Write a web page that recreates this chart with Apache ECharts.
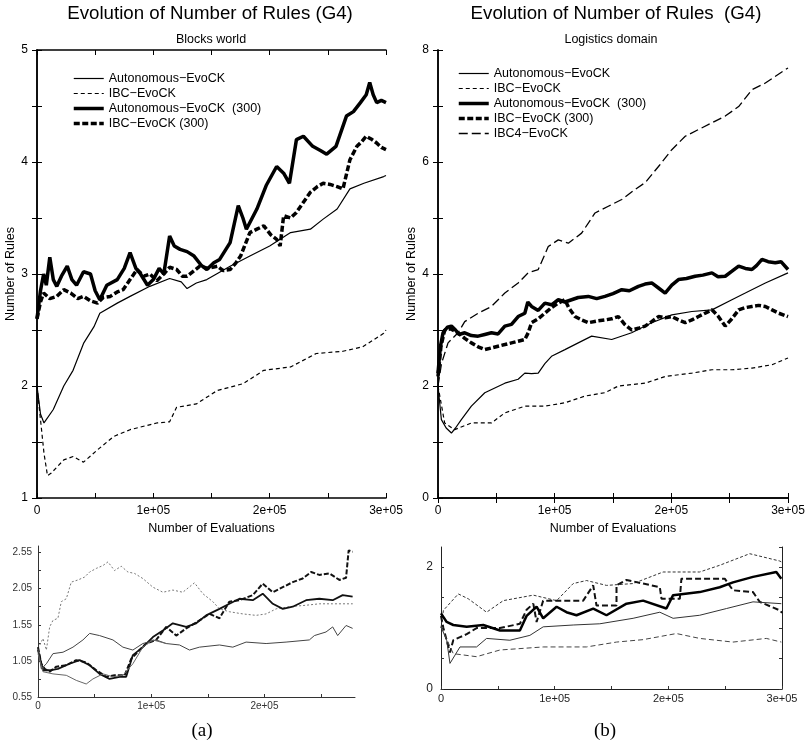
<!DOCTYPE html>
<html>
<head>
<meta charset="utf-8">
<script src="https://cdn.jsdelivr.net/npm/echarts@6/dist/echarts.min.js"></script>
<style>html,body{margin:0;background:#fff}#chart{width:807px;height:750px}</style>
</head>
<body>
<div id="chart"></div>
<script>
// values: [evaluations, number of rules]

// (a) Blocks world
const blocksAuto = [[0,2.0],[3000,1.75],[6000,1.67],[14000,1.79],[23000,2.0],[31000,2.14],[40000,2.38],[49000,2.53],[54000,2.65],[69000,2.74],[80000,2.8],[97000,2.89],[114000,2.96],[124000,2.93],[129000,2.87],[137000,2.92],[146000,2.95],[166000,3.07],[183000,3.16],[200000,3.25],[218000,3.37],[235000,3.4],[246000,3.49],[258000,3.58],[269000,3.76],[281000,3.81],[298000,3.87],[300000,3.88]]
const blocksIBC = [[0,2.0],[3000,1.7],[6000,1.4],[9000,1.2],[12000,1.22],[23000,1.34],[31000,1.37],[40000,1.32],[52000,1.43],[66000,1.55],[80000,1.61],[103000,1.67],[114000,1.68],[120000,1.81],[137000,1.84],[155000,1.96],[177000,2.02],[195000,2.14],[218000,2.17],[240000,2.29],[263000,2.31],[280000,2.35],[298000,2.47],[300000,2.5]]
const blocksAuto300 = [[0,2.6],[3000,2.85],[5700,3.0],[8000,2.9],[11000,3.15],[14000,2.95],[17000,2.89],[21000,2.98],[26000,3.07],[30000,2.95],[34000,2.9],[40000,3.02],[46000,3.0],[50000,2.85],[54000,2.77],[60000,2.9],[69000,2.95],[75000,3.05],[80000,3.19],[85000,3.05],[89000,3.0],[95000,2.9],[100000,2.95],[105000,3.05],[109000,3.0],[114000,3.34],[118000,3.25],[123000,3.22],[129000,3.2],[135000,3.16],[141000,3.08],[146000,3.04],[152000,3.1],[157000,3.13],[166000,3.28],[173000,3.61],[177000,3.5],[180000,3.4],[185000,3.5],[189000,3.58],[197000,3.79],[206000,3.96],[212000,3.9],[217000,3.81],[223000,4.2],[229000,4.23],[237000,4.14],[244000,4.1],[249000,4.07],[257000,4.14],[266000,4.41],[272000,4.45],[278000,4.53],[283000,4.6],[286000,4.71],[289000,4.6],[292000,4.53],[296000,4.55],[300000,4.53]]
const blocksIBC300 = [[0,2.6],[3000,2.75],[5700,2.83],[11000,2.78],[17000,2.8],[23000,2.86],[29000,2.83],[35000,2.78],[40000,2.8],[46000,2.76],[52000,2.74],[57000,2.79],[63000,2.8],[69000,2.84],[74000,2.86],[80000,2.95],[86000,3.04],[92000,2.98],[97000,3.0],[103000,2.94],[109000,3.0],[114000,3.06],[120000,3.04],[125000,2.98],[129000,2.98],[135000,3.03],[140000,3.07],[147000,3.05],[155000,3.07],[160000,3.03],[166000,3.04],[171000,3.1],[175000,3.16],[183000,3.37],[189000,3.4],[195000,3.43],[201000,3.35],[206000,3.31],[209000,3.25],[212000,3.52],[218000,3.5],[223000,3.55],[229000,3.64],[235000,3.73],[241000,3.78],[246000,3.81],[252000,3.8],[258000,3.78],[263000,3.76],[269000,4.02],[275000,4.14],[279000,4.18],[283000,4.23],[288000,4.2],[292000,4.17],[296000,4.13],[300000,4.11]]

// (b) Logistics domain
const logAuto = [[0,2.0],[2900,1.4],[7000,1.25],[11500,1.16],[15000,1.25],[20000,1.4],[28600,1.64],[40100,1.88],[57300,2.05],[68700,2.12],[74400,2.23],[80200,2.22],[85900,2.23],[91600,2.4],[97300,2.53],[108800,2.65],[120200,2.77],[131700,2.89],[148900,2.83],[166000,2.95],[183200,3.13],[200400,3.27],[217600,3.33],[234800,3.36],[251900,3.54],[263400,3.66],[280600,3.84],[300000,4.02]]
const logIBC = [[0,2.0],[5700,1.34],[14300,1.22],[28600,1.34],[45800,1.34],[57300,1.52],[74400,1.64],[91600,1.64],[108800,1.7],[126000,1.82],[143100,1.88],[154600,2.0],[177500,2.05],[194700,2.17],[217600,2.23],[234800,2.29],[251900,2.29],[269100,2.32],[286300,2.38],[300000,2.5]]
const logAuto300 = [[0,2.23],[2000,2.7],[4300,2.95],[8000,3.05],[11500,3.07],[15000,3.0],[18000,2.92],[22900,2.95],[28600,2.9],[34400,2.89],[40100,2.92],[45800,2.95],[51500,2.93],[57300,3.07],[63000,3.1],[68700,3.24],[74400,3.3],[77000,3.5],[80200,3.42],[85900,3.35],[91600,3.48],[97300,3.45],[103100,3.54],[108800,3.5],[114500,3.54],[120200,3.58],[128800,3.6],[136000,3.56],[143100,3.6],[150000,3.65],[157500,3.72],[164000,3.7],[171800,3.78],[177500,3.82],[183200,3.84],[189000,3.75],[194700,3.66],[200400,3.8],[206100,3.9],[213000,3.92],[220400,3.96],[227000,3.98],[234800,4.02],[240000,3.95],[246200,3.96],[252000,4.05],[257700,4.14],[263400,4.1],[269100,4.08],[273000,4.15],[277700,4.26],[283000,4.22],[289100,4.2],[294000,4.22],[300000,4.08]]
const logIBC300 = [[0,2.17],[2500,2.7],[5700,3.0],[11000,3.02],[17200,2.95],[22900,2.85],[28600,2.77],[34400,2.7],[40100,2.65],[45800,2.68],[51500,2.71],[57300,2.74],[63000,2.77],[68700,2.8],[74400,2.83],[77300,2.95],[80200,3.13],[85900,3.2],[91600,3.3],[97300,3.4],[103100,3.48],[108800,3.54],[112000,3.4],[117400,3.24],[123100,3.18],[128800,3.13],[136000,3.16],[143100,3.18],[148900,3.2],[154600,3.24],[160000,3.1],[166000,3.0],[171800,3.03],[177500,3.07],[183200,3.15],[189000,3.24],[194700,3.22],[200400,3.24],[206100,3.18],[211900,3.13],[217600,3.18],[223300,3.24],[229000,3.3],[234800,3.36],[240000,3.25],[246200,3.07],[251900,3.2],[257700,3.36],[263400,3.4],[269100,3.42],[274800,3.44],[280600,3.42],[286300,3.36],[292000,3.3],[300000,3.24]]
const logIBC4 = [[0,2.0],[3000,2.4],[8600,2.77],[17200,2.95],[22900,3.15],[34400,3.3],[45800,3.42],[57300,3.66],[68700,3.84],[77300,4.02],[85900,4.08],[94500,4.49],[103100,4.61],[111700,4.55],[123100,4.73],[134600,5.09],[146000,5.21],[157500,5.33],[168900,5.51],[177500,5.63],[189000,5.92],[200400,6.22],[211900,6.46],[223300,6.58],[234800,6.7],[246200,6.82],[257700,6.99],[269100,7.29],[280600,7.41],[300000,7.68]]

// small plots under (a)
const insetADotted = [[0,1.22],[900,1.24],[4400,1.36],[7400,1.2],[10300,1.52],[13200,1.61],[17600,1.64],[20600,1.87],[25000,1.91],[29400,2.14],[35300,2.17],[41200,2.21],[45600,2.28],[51500,2.33],[57400,2.37],[61800,2.42],[67600,2.3],[73500,2.36],[79400,2.28],[85300,2.26],[92600,2.19],[101500,2.07],[110300,2.0],[119100,2.03],[127900,2.0],[138200,2.13],[145600,1.98],[154400,1.87],[160300,1.77],[169100,1.73],[180900,1.7],[192600,1.68],[201500,1.7],[210300,1.77],[222100,1.8],[236800,1.82],[248500,1.84],[260300,1.84],[278000,1.84]]
const insetAThickDash = [[0,1.24],[2900,1.01],[5900,0.94],[10300,0.9],[16200,0.97],[25000,0.99],[33800,1.06],[42600,1.03],[51500,0.92],[60300,0.83],[67600,0.85],[76500,0.85],[82400,1.08],[89700,1.2],[95600,1.29],[104400,1.34],[113200,1.52],[122100,1.4],[130900,1.5],[142600,1.61],[151500,1.7],[160300,1.64],[169100,1.87],[177900,1.89],[189700,1.96],[198500,2.12],[207400,2.0],[216200,2.07],[225000,2.14],[233800,2.19],[241200,2.28],[248500,2.24],[257400,2.26],[266200,2.17],[272100,2.2],[274400,2.58],[277900,2.56]]
const insetAThick = [[0,1.2],[4400,0.92],[10300,0.92],[17600,0.94],[27900,1.01],[36800,1.06],[45600,0.99],[54400,0.87],[63200,0.8],[72100,0.83],[77900,0.83],[83800,1.13],[92600,1.24],[101500,1.38],[110300,1.47],[119100,1.57],[130900,1.52],[139700,1.57],[148500,1.68],[160300,1.77],[169100,1.84],[177900,1.91],[189700,1.89],[198500,1.98],[207400,1.84],[216200,1.77],[225000,1.8],[236800,1.89],[248500,1.91],[260300,1.89],[269100,1.96],[277900,1.94]]
const insetAThin = [[0,1.22],[2900,0.94],[7400,1.01],[13200,1.15],[22100,1.17],[30900,1.24],[39700,1.34],[45600,1.43],[54400,1.4],[66200,1.34],[75000,1.24],[83800,1.2],[92600,1.29],[104400,1.34],[113200,1.29],[125000,1.27],[133800,1.2],[142600,1.24],[160300,1.27],[172100,1.24],[183800,1.31],[201500,1.29],[219100,1.31],[239700,1.34],[244100,1.4],[254400,1.45],[260300,1.52],[264700,1.4],[272100,1.54],[277900,1.5]]
const insetALow = [[0,1.15],[4400,0.9],[13200,0.87],[25000,0.85],[33800,0.78],[42600,0.73],[48500,0.8],[57400,0.87],[66200,0.83],[75000,0.85],[83800,1.01],[92600,1.24],[101500,1.34],[113200,1.29]]

// small plots under (b)
const insetBDotted = [[0,1.0],[2100,1.29],[15200,1.56],[24000,1.48],[40100,1.26],[54800,1.45],[81200,1.54],[101700,1.45],[116300,1.73],[128000,1.78],[145600,1.7],[169000,1.73],[195400,1.92],[227600,1.92],[245200,2.03],[271600,2.22],[298000,2.1],[300000,2.08]]
const insetBThickDash = [[0,1.2],[2100,1.0],[5000,0.8],[7900,0.6],[10800,0.8],[16700,0.85],[22600,0.9],[31300,1.0],[51900,1.0],[69400,1.07],[75300,1.3],[81200,1.4],[84100,1.1],[89900,1.45],[101700,1.45],[125100,1.45],[133900,1.7],[136800,1.37],[154400,1.37],[154400,1.7],[163200,1.79],[192500,1.67],[194000,1.48],[210100,1.48],[211500,1.81],[249600,1.81],[256900,1.62],[274500,1.59],[280400,1.43],[298000,1.29],[300000,1.25]]
const insetBThick = [[0,1.24],[5000,1.1],[10800,1.05],[22600,1.02],[37200,1.05],[51900,0.96],[69400,0.96],[75300,1.2],[84100,1.35],[89900,1.16],[101700,1.35],[110400,1.26],[119200,1.21],[133900,1.32],[145600,1.21],[163200,1.4],[177800,1.45],[198300,1.32],[204200,1.54],[227600,1.59],[245200,1.67],[256900,1.75],[274500,1.84],[295000,1.92],[299400,1.81]]
const insetBThin = [[0,1.02],[5000,0.8],[7900,0.42],[16700,0.69],[31300,0.69],[40100,0.83],[60600,0.8],[78200,0.88],[89900,1.02],[116300,1.05],[139700,1.07],[169000,1.16],[192500,1.26],[204200,1.16],[227600,1.21],[251100,1.32],[274500,1.43],[299400,1.4]]
const insetBDash = [[0,1.02],[10800,0.58],[31300,0.53],[51900,0.64],[89900,0.69],[128000,0.69],[154400,0.77],[177800,0.81],[207100,0.91],[227600,0.83],[256900,0.77],[286200,0.83],[299400,0.77]]

const insetAYLabels = [0.55, 1.05, 1.55, 2.05, 2.55]
const insetAYTicks = [0.55, 0.8, 1.05, 1.3, 1.55, 1.8, 2.05, 2.3, 2.55]

const font = 'Liberation Sans'
const chart = echarts.init(document.getElementById('chart'))

const evalLabel = v => v === 0 ? '0' : (v % 100000 ? '' : (v / 100000) + 'e+05')

function line (name, data, axis, width, type, color) {
  return {
    name, type: 'line', data,
    xAxisIndex: axis, yAxisIndex: axis,
    symbol: 'none', animation: false, silent: true,
    lineStyle: { width, type: type || 'solid', color: color || '#000' }
  }
}

// extra axes on top / right so the top plots get a full ticked box
function frameAxis (grid, pos, min, max, interval) {
  return {
    type: 'value', gridIndex: grid, position: pos, min, max, interval,
    axisLine: { show: true, lineStyle: { color: '#000', width: 1.5 } },
    axisTick: { show: true, inside: true, length: 5, lineStyle: { color: '#000' } },
    axisLabel: { show: false }, splitLine: { show: false }
  }
}

const tick = { show: true, inside: true, length: 5, lineStyle: { color: '#000' } }
const axLine = { show: true, lineStyle: { color: '#000', width: 1.5 } }
const titleStyle = size => ({ fontSize: size, fontWeight: 'normal', color: '#000' })
const nameStyle = { fontSize: 12.5, color: '#000' }

chart.setOption({
  animation: false,
  textStyle: { fontFamily: font },
  title: [
    { text: 'Evolution of Number of Rules (G4)', left: 210, top: 4, textAlign: 'center', padding: 0, textStyle: titleStyle(18.7) },
    { text: 'Evolution of Number of Rules  (G4)', left: 616, top: 4, textAlign: 'center', padding: 0, textStyle: titleStyle(18.7) },
    { text: 'Blocks world', left: 211, top: 33, textAlign: 'center', padding: 0, textStyle: titleStyle(12.5) },
    { text: 'Logistics domain', left: 611, top: 33, textAlign: 'center', padding: 0, textStyle: titleStyle(12.5) },
    { text: '(a)', left: 202, top: 722, textAlign: 'center', padding: 0, textStyle: { ...titleStyle(19), fontFamily: 'Liberation Serif' } },
    { text: '(b)', left: 605, top: 722, textAlign: 'center', padding: 0, textStyle: { ...titleStyle(19), fontFamily: 'Liberation Serif' } }
  ],
  legend: [
    {
      left: 72, top: 72, padding: 0, orient: 'vertical', itemWidth: 30, itemHeight: 10, itemGap: 2,
      itemStyle: { opacity: 0 }, lineStyle: { width: 'inherit' },
      textStyle: { fontSize: 12.5, color: '#000' },
      data: ['Autonomous−EvoCK', 'IBC−EvoCK', 'Autonomous−EvoCK  (300)', 'IBC−EvoCK (300)']
    },
    {
      left: 457, top: 67, padding: 0, orient: 'vertical', itemWidth: 30, itemHeight: 10, itemGap: 2,
      itemStyle: { opacity: 0 }, lineStyle: { width: 'inherit' },
      textStyle: { fontSize: 12.5, color: '#000' },
      data: ['Autonomous−EvoCK', 'IBC−EvoCK', 'Autonomous−EvoCK  (300)', 'IBC−EvoCK (300)', 'IBC4−EvoCK']
    }
  ],
  grid: [
    { left: 37, top: 50, width: 349, height: 448, outerBoundsMode: 'none' },
    { left: 438, top: 50, width: 350, height: 448, outerBoundsMode: 'none' },
    { left: 38, top: 546, width: 317, height: 151, outerBoundsMode: 'none' },
    { left: 441, top: 547, width: 341, height: 142, outerBoundsMode: 'none' }
  ],
  xAxis: [
    {
      type: 'value', gridIndex: 0, min: 0, max: 300000, interval: 50000,
      axisLine: axLine, axisTick: tick, splitLine: { show: false },
      axisLabel: { formatter: evalLabel, color: '#000', fontSize: 12, margin: 7, showMaxLabel: true },
      name: 'Number of Evaluations', nameLocation: 'middle', nameGap: 22, nameTextStyle: nameStyle
    },
    {
      type: 'value', gridIndex: 1, min: 0, max: 300000, interval: 50000,
      axisLine: axLine, axisTick: tick, splitLine: { show: false },
      axisLabel: { formatter: evalLabel, color: '#000', fontSize: 12, margin: 7, showMaxLabel: true },
      name: 'Number of Evaluations', nameLocation: 'middle', nameGap: 22, nameTextStyle: nameStyle
    },
    {
      type: 'value', gridIndex: 2, min: 0, max: 280000, interval: 50000,
      axisLine: { show: true, lineStyle: { color: '#333', width: 1 } },
      axisTick: { show: true, inside: true, length: 3, lineStyle: { color: '#333' } },
      splitLine: { show: false },
      axisLabel: { formatter: evalLabel, color: '#333', fontSize: 10, margin: 4, showMaxLabel: false }
    },
    {
      type: 'value', gridIndex: 3, min: 0, max: 300000, interval: 50000,
      axisLine: { show: true, lineStyle: { color: '#222', width: 1 } },
      axisTick: { show: true, inside: true, length: 3, lineStyle: { color: '#333' } },
      splitLine: { show: false },
      axisLabel: { formatter: evalLabel, color: '#222', fontSize: 11, margin: 4, showMaxLabel: true }
    },
    frameAxis(0, 'top', 0, 300000, 50000),
    frameAxis(1, 'top', 0, 300000, 50000)
  ],
  yAxis: [
    {
      type: 'value', gridIndex: 0, min: 1, max: 5, interval: 0.5,
      axisLine: axLine, axisTick: tick, splitLine: { show: false },
      axisLabel: { formatter: v => (v % 1 ? '' : v), color: '#000', fontSize: 12, margin: 9 },
      name: 'Number of Rules', nameLocation: 'middle', nameGap: 16, nameTextStyle: nameStyle
    },
    {
      type: 'value', gridIndex: 1, min: 0, max: 8, interval: 1,
      axisLine: axLine, axisTick: tick, splitLine: { show: false },
      axisLabel: { formatter: v => (v % 2 ? '' : v), color: '#000', fontSize: 12, margin: 9 },
      name: 'Number of Rules', nameLocation: 'middle', nameGap: 13, nameTextStyle: nameStyle
    },
    {
      type: 'value', gridIndex: 2, min: 0.55, max: 2.64,
      axisLine: { show: true, lineStyle: { color: '#333', width: 1 } },
      axisTick: { show: true, inside: true, length: 3, customValues: insetAYTicks, lineStyle: { color: '#333' } },
      splitLine: { show: false },
      axisLabel: { customValues: insetAYLabels, formatter: v => v.toFixed(2), color: '#333', fontSize: 10, margin: 6 }
    },
    {
      type: 'value', gridIndex: 3, min: 0, max: 2.33, interval: 0.5,
      axisLine: { show: true, lineStyle: { color: '#222', width: 1 } },
      axisTick: { show: true, inside: true, length: 3, lineStyle: { color: '#333' } },
      splitLine: { show: false },
      axisLabel: { formatter: v => (v % 2 ? '' : v), color: '#222', fontSize: 12, margin: 8, showMaxLabel: false }
    },
    frameAxis(0, 'right', 1, 5, 0.5),
    frameAxis(1, 'right', 0, 8, 1),
    {
      type: 'value', gridIndex: 3, position: 'right', min: 0, max: 2.33, interval: 0.5,
      axisLine: { show: true, lineStyle: { color: '#222', width: 1 } },
      axisTick: { show: true, inside: true, length: 3, lineStyle: { color: '#333' } },
      axisLabel: { show: false }, splitLine: { show: false }
    }
  ],
  series: [
    line('Autonomous−EvoCK', blocksAuto, 0, 1.2),
    line('IBC−EvoCK', blocksIBC, 0, 1.2, [4, 3]),
    line('Autonomous−EvoCK  (300)', blocksAuto300, 0, 3.5),
    line('IBC−EvoCK (300)', blocksIBC300, 0, 3.5, [6, 2.5]),

    line('Autonomous−EvoCK', logAuto, 1, 1.2),
    line('IBC−EvoCK', logIBC, 1, 1.2, [4, 3]),
    line('Autonomous−EvoCK  (300)', logAuto300, 1, 3.5),
    line('IBC−EvoCK (300)', logIBC300, 1, 3.5, [6, 2.5]),
    line('IBC4−EvoCK', logIBC4, 1, 1.3, [9, 4]),

    line('a1', insetADotted, 2, 1, [2, 2], '#777'),
    line('a2', insetAThickDash, 2, 2, [5, 2], '#111'),
    line('a3', insetAThick, 2, 1.8, 'solid', '#111'),
    line('a4', insetAThin, 2, 1, 'solid', '#444'),
    line('a5', insetALow, 2, 1, 'solid', '#666'),

    line('b1', insetBDotted, 3, 1, [3, 2], '#333'),
    line('b2', insetBThickDash, 3, 2, [6, 3], '#111'),
    line('b3', insetBThick, 3, 2.5, 'solid', '#000'),
    line('b4', insetBThin, 3, 1, 'solid', '#333'),
    line('b5', insetBDash, 3, 1, [5, 3], '#444')
  ]
})
</script>
</body>
</html>
